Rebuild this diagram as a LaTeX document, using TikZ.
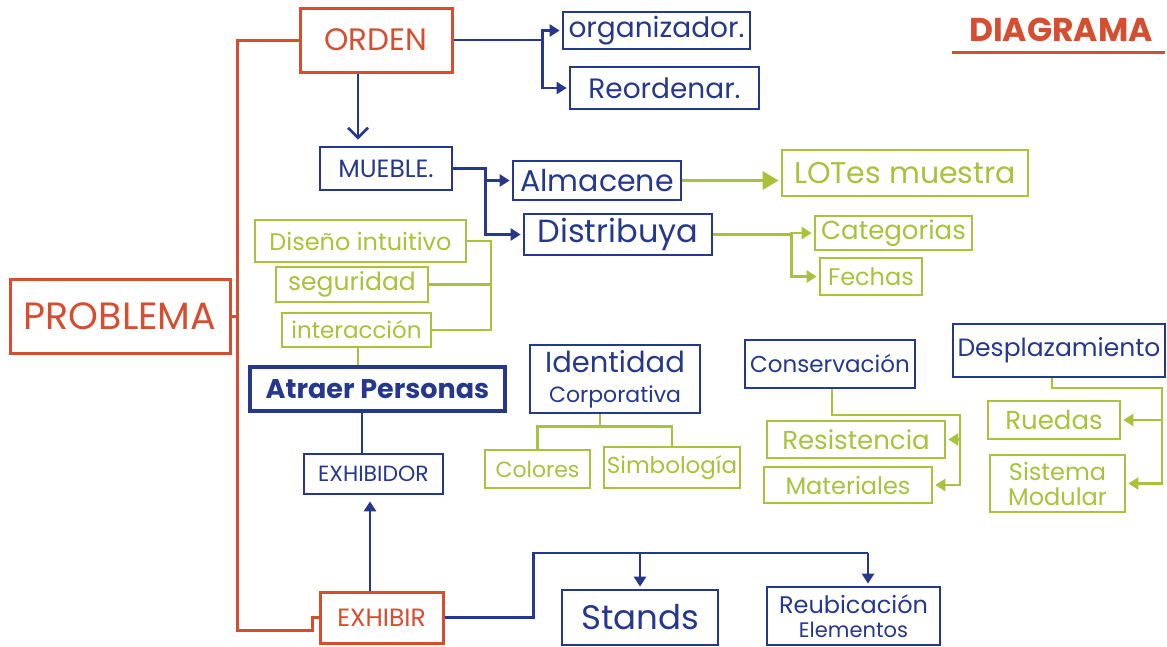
\documentclass[tikz,border=0pt]{standalone}
\usepackage{fontspec}
\setmainfont{Poppins}
\usetikzlibrary{arrows.meta,calc}
\definecolor{cred}{HTML}{D64E30}
\definecolor{cblue}{HTML}{26388C}
\definecolor{cgreen}{HTML}{A8C23C}
\newcommand{\fsz}[1]{\fontsize{#1}{#1}\selectfont}
\tikzset{
  every node/.style={inner sep=0pt, align=center},
  rbox/.style={draw=cred, text=cred, line width=3pt},
  bbox/.style={draw=cblue, text=cblue, line width=2.7pt},
  gbox/.style={draw=cgreen, text=cgreen, line width=2.7pt},
  rl/.style={draw=cred, line width=3pt},
  bl/.style={draw=cblue, line width=2.7pt},
  gl/.style={draw=cgreen, line width=2.7pt},
  tip/.style={-{Triangle[length=10pt,width=12pt]}, shorten >=2pt},
  bigtip/.style={-{Triangle[length=16pt,width=18pt]}, shorten >=2pt},
  barb/.style={-{Straight Barb[length=10pt,width=20pt]}, shorten >=6pt},
}
\begin{document}
\begin{tikzpicture}[x=1pt,y=-1pt]
\useasboundingbox[fill=white] (0,0) rectangle (1167,646);

% title
\node[text=cred, font=\fsz{33}\bfseries] (diag) at (1061,30) {DIAGRAMA};
\coordinate (ulL) at (952,52);
\coordinate (ulR) at (1165,52);
\draw[rl] (ulL) -- (ulR);

% red nodes
\node[rbox, minimum width=152pt, minimum height=64pt, font=\fsz{31}] (orden) at (376,40) {ORDEN};
\node[rbox, minimum width=220pt, minimum height=74pt, font=\fsz{38}] (problema) at (120,316) {PROBLEMA};
\node[rbox, minimum width=123pt, minimum height=51pt, font=\fsz{25}] (exhibir) at (381.5,617.5) {EXHIBIR};

% blue nodes
\node[bbox, minimum width=187pt, minimum height=37pt, font=\fsz{28}] (organizador) at (656.5,30.5) {organizador.};
\node[bbox, minimum width=189pt, minimum height=42pt, font=\fsz{28}] (reordenar) at (664.5,88) {Reordenar.};
\node[bbox, minimum width=132pt, minimum height=43pt, font=\fsz{25}] (mueble) at (386,168.5) {MUEBLE.};
\node[bbox, minimum width=168pt, minimum height=39pt, font=\fsz{30}] (almacene) at (597,180.5) {Almacene};
\node[bbox, minimum width=188pt, minimum height=41pt, font=\fsz{32}] (distribuya) at (618,234.5) {Distribuya};
\node[bbox, line width=3.4pt, minimum width=255pt, minimum height=44pt, font=\fsz{27}\bfseries] (atraer) at (377.5,389) {Atraer Personas};
\node[bbox, minimum width=170pt, minimum height=68pt, font=\fontsize{22}{30}\selectfont] (identidad) at (615,379) {{\fsz{29}Identidad}\\Corporativa};
\node[bbox, minimum width=170pt, minimum height=48pt, font=\fsz{23}] (conservacion) at (830,364) {Conservación};
\node[bbox, minimum width=212pt, minimum height=53pt, font=\fsz{25}] (desplazamiento) at (1059,350.5) {Desplazamiento};
\node[bbox, minimum width=139pt, minimum height=40pt, font=\fsz{22}] (exhibidor) at (373.5,474) {EXHIBIDOR};
\node[bbox, minimum width=156pt, minimum height=55pt, font=\fsz{34}] (stands) at (640,617.5) {Stands};
\node[bbox, minimum width=173pt, minimum height=58pt, font=\fontsize{21}{24}\selectfont] (reubicacion) at (853.5,616) {{\fsz{24}Reubicación}\\Elementos};

% green nodes
\node[gbox, minimum width=246pt, minimum height=46pt, font=\fsz{30}] (lotes) at (905,173) {LOTes muestra};
\node[gbox, minimum width=157pt, minimum height=34pt, font=\fsz{26}] (categorias) at (893.5,233) {Categorias};
\node[gbox, minimum width=102pt, minimum height=37pt, font=\fsz{24}] (fechas) at (871,276.5) {Fechas};
\node[gbox, minimum width=211pt, minimum height=42pt, font=\fsz{24}] (diseno) at (360.5,241) {Diseño intuitivo};
\node[gbox, minimum width=152pt, minimum height=35pt, font=\fsz{25}] (seguridad) at (352,284.5) {seguridad};
\node[gbox, minimum width=149pt, minimum height=34pt, font=\fsz{23}] (interaccion) at (356.5,330) {interacción};
\node[gbox, minimum width=178pt, minimum height=37pt, font=\fsz{26}] (resistencia) at (856,439.5) {Resistencia};
\node[gbox, minimum width=168pt, minimum height=36pt, font=\fsz{24}] (materiales) at (848,485) {Materiales};
\node[gbox, minimum width=132pt, minimum height=38pt, font=\fsz{26}] (ruedas) at (1054,420) {Ruedas};
\node[gbox, minimum width=135pt, minimum height=57pt, font=\fontsize{24}{25}\selectfont] (sistema) at (1057.5,483.5) {Sistema\\Modular};
\node[gbox, minimum width=105pt, minimum height=38pt, font=\fsz{22}] (colores) at (537.5,469) {Colores};
\node[gbox, minimum width=136pt, minimum height=41pt, font=\fsz{23}] (simbologia) at (672,467.5) {Simbología};

% red connectors
\coordinate (rv) at (237,0);
\draw[rl] (orden.west) -| (rv |- 0,630) -- (312,630) |- (exhibir.west);
\draw[rl] (problema.east) -- (rv |- problema.east);

% blue connectors
\draw[bl, tip] (orden.east) -- ++(89,0) |- (organizador.west);
\draw[bl, tip] (orden.east) -- ++(89,0) |- (reordenar.west);
\draw[bl, barb] (orden.south -| 358,0) -- (mueble.north -| 358,0);
\draw[bl, tip] (mueble.east) -- ++(32,0) |- (almacene.west);
\draw[bl, tip] (mueble.east) -- ++(32,0) |- (distribuya.west);
\draw[bl] (atraer.south -| 362,0) -- (exhibidor.north -| 362,0);
\draw[bl, tip, shorten >=6pt] (exhibir.north -| 370,0) -- (exhibidor.south -| 370,0);
\coordinate (brR) at (868,553);
\draw[bl] (exhibir.east) -- ++(89,0) |- (brR);
\draw[bl, tip] (stands.north |- brR) -- (stands.north);
\draw[bl, tip] (brR) -- (reubicacion.north -| brR);

% green connectors
\draw[gl, line width=3.2pt, bigtip] (almacene.east) -- (lotes.west |- almacene.east);
\draw[gl, tip] (distribuya.east) -- ++(78,0) |- (categorias.west);
\draw[gl, tip] (distribuya.east) -- ++(78,0) |- (fechas.west);
\coordinate (gv) at (491,0);
\draw[gl] (diseno.east) -- (gv |- diseno.east) -- (gv |- interaccion.east) -- (interaccion.east);
\draw[gl] (seguridad.east) -- (gv |- seguridad.east);
\draw[gl] (interaccion.south -| 358,0) -- (atraer.north -| 358,0);
\draw[gl] (identidad.south -| 600,0) -- ++(0,12) -| (colores.north);
\draw[gl] (identidad.south -| 600,0) -- ++(0,12) -| (simbologia.north);
\draw[gl, tip] (conservacion.south -| 832,0) |- (960,415) |- (resistencia.east);
\draw[gl, tip] (conservacion.south -| 832,0) |- (960,415) |- (materiales.east);
\draw[gl, tip] (desplazamiento.south -| 1052,0) |- (1162,388) |- (ruedas.east);
\draw[gl, tip] (desplazamiento.south -| 1052,0) |- (1162,388) |- (sistema.east);
\end{tikzpicture}
\end{document}
